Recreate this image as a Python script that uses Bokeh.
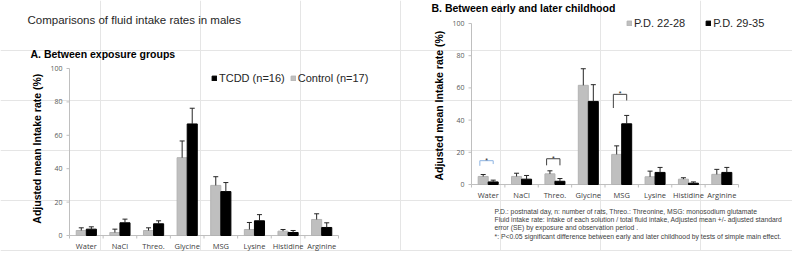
from math import pi

from bokeh.plotting import figure
from bokeh.models import Range1d, Label, Legend, LegendItem
from bokeh.core.properties import value
from bokeh.embed import file_html
from bokeh.resources import INLINE

# ---------------- data ----------------
categories = ["Water", "NaCl", "Threo.", "Glycine", "MSG", "Lysine", "Histidine", "Arginine"]
y_ticks = [0, 20, 40, 60, 80, 100]

# Panel A: between exposure groups (adjusted mean, SE)
a_control = [3.0, 1.8, 3.0, 46.6, 30.0, 3.6, 2.6, 9.6]
a_control_se = [1.6, 2.0, 1.6, 10.0, 5.2, 4.2, 1.0, 3.4]
a_tcdd = [3.8, 7.6, 7.0, 66.8, 26.3, 8.8, 1.8, 4.8]
a_tcdd_se = [1.4, 2.2, 1.8, 9.4, 5.4, 3.7, 1.2, 2.8]

# Panel B: between early and later childhood
b_early = [5.0, 5.0, 6.6, 61.6, 18.7, 4.8, 3.3, 6.3]
b_early_se = [1.2, 2.0, 1.9, 10.3, 5.3, 3.5, 0.9, 3.1]
b_later = [1.6, 3.3, 2.0, 51.6, 37.7, 7.5, 0.8, 7.5]
b_later_se = [1.1, 2.3, 1.7, 10.4, 5.2, 3.1, 0.8, 3.1]

# significance brackets in panel B
sig_categories = ["Water", "Threo.", "MSG"]
sig_top = [14.8, 16.0, 56.0]
sig_left_end = [11.6, 11.9, 47.5]
sig_right_end = [12.7, 11.9, 52.2]
sig_colors = ["#8EB4E3", "#404040", "#404040"]

y_label = "Adjusted mean Intake rate (%)"
main_title = "Comparisons of fluid intake rates in males"
title_a = "A. Between exposure groups"
title_b = "B. Between early and later childhood"
legend_a = ["TCDD (n=16)", "Control (n=17)"]
legend_b = ["P.D. 22-28", "P.D. 29-35"]
footnotes = [
    "P.D.: postnatal day, n: number of rats,  Threo.: Threonine, MSG:  monosodium glutamate",
    "Fluid intake rate: intake of each solution / total fluid intake, Adjusted mean +/-  adjusted standard",
    "error (SE) by exposure and observation period .",
    "*: P<0.05 significant difference between early and later childhood  by tests of simple main effect.",
]

# ---------------- style / layout ----------------
W, H = 792, 251
GRAY = "#BFBFBF"
BLACK = "#000000"
AXIS_COL = "#BFBFBF"
ERR_COL = "#262626"
BAR_W = 0.3
SANS = "Liberation Sans"
CAT_FONT = "Open Sans"

# plot-area geometry of both panels, in canvas pixels
GEOM = {
    "a": dict(left=69, right=338, y0=235, y100=68),
    "b": dict(left=471, right=738, y0=184, y100=23),
}

p = figure(width=W, height=H, x_range=Range1d(0, W), y_range=Range1d(H, 0),
           x_axis_location=None, y_axis_location=None,
           output_backend="svg", toolbar_location=None, min_border=0)
p.min_border_left = p.min_border_right = p.min_border_top = p.min_border_bottom = 0
p.outline_line_color = None
p.background_fill_color = "white"
p.border_fill_color = "white"

n = len(categories)
xr, yr = {}, {}
for k, g in GEOM.items():
    ppx = (g["right"] - g["left"]) / n
    ppy = (g["y0"] - g["y100"]) / 100.0
    g["ppx"], g["ppy"] = ppx, ppy
    xr["x" + k] = Range1d(start=-g["left"] / ppx, end=(W - g["left"]) / ppx)
    yr["y" + k] = Range1d(start=(g["y0"] - H) / ppy, end=g["y0"] / ppy)
p.extra_x_ranges = xr
p.extra_y_ranges = yr


def draw_axes(k, label_mid):
    g = GEOM[k]
    kw = dict(x_range_name="x" + k, y_range_name="y" + k)
    nt = len(y_ticks)
    # y axis
    p.segment(x0=[0], y0=[y_ticks[0]], x1=[0], y1=[y_ticks[-1]], line_color=AXIS_COL, line_width=1, **kw)
    p.segment(x0=[0] * nt, y0=y_ticks, x1=[-3 / g["ppx"]] * nt, y1=y_ticks,
              line_color=AXIS_COL, line_width=1, **kw)
    p.text(x=[0] * nt, y=y_ticks, text=[str(t) for t in y_ticks], x_offset=-7,
           text_align="right", text_baseline="middle", text_font=value(CAT_FONT),
           text_font_size="7px", text_color="#595959", **kw)
    # x axis with ticks between categories
    p.segment(x0=[0], y0=[0], x1=[n], y1=[0], line_color=AXIS_COL, line_width=1, **kw)
    p.segment(x0=list(range(n + 1)), y0=[0] * (n + 1), x1=list(range(n + 1)),
              y1=[-3 / g["ppy"]] * (n + 1), line_color=AXIS_COL, line_width=1, **kw)
    p.text(x=[i + 0.5 for i in range(n)], y=[0] * n, text=categories, y_offset=10,
           text_align="center", text_baseline="middle", text_font=value(CAT_FONT),
           text_font_size="7.5px", text_color="#404040", **kw)
    # y axis title
    p.text(x=[0], y=[label_mid], text=[y_label], angle=pi / 2, x_offset=-33,
           text_align="center", text_baseline="middle", text_font=value(SANS),
           text_font_style="bold", text_font_size="10.5px", text_color="#000000", **kw)


def add_bars(k, vals, ses, offset, color, line_color):
    kw = dict(x_range_name="x" + k, y_range_name="y" + k)
    xs = [i + 0.5 + offset for i in range(n)]
    upper = [v + s for v, s in zip(vals, ses)]
    r = p.vbar(x=xs, top=vals, width=BAR_W, fill_color=color, line_color=line_color, **kw)
    p.segment(x0=xs, y0=vals, x1=xs, y1=upper, line_color=ERR_COL, line_width=1, **kw)
    p.scatter(x=xs, y=upper, marker="dash", size=5, line_color=ERR_COL, line_width=1, **kw)
    return r


def add_label(X, Y, text, size, bold=False, color="#000000", font=SANS, baseline="middle"):
    p.add_layout(Label(x=X, y=Y, text=text, text_font=font, text_font_size=size,
                       text_font_style="bold" if bold else "normal", text_color=color,
                       text_align="left", text_baseline=baseline))


def add_legend(items, x, y, spacing):
    p.add_layout(Legend(items=[LegendItem(label=t, renderers=[r]) for t, r in items],
                        location=(x, y), orientation="horizontal",
                        glyph_width=6, glyph_height=6, label_standoff=2, spacing=spacing,
                        padding=0, margin=0, border_line_color=None, background_fill_alpha=0,
                        label_text_font=SANS, label_text_font_size="11px",
                        label_text_color="#262626", label_height=10))


# ---------------- panel A ----------------
draw_axes("a", 52)
rA_ctrl = add_bars("a", a_control, a_control_se, -BAR_W / 2, GRAY, "#B3B3B3")
rA_tcdd = add_bars("a", a_tcdd, a_tcdd_se, BAR_W / 2, BLACK, BLACK)
add_label(27, 19, main_title, "11.5px", color="#262626")
add_label(30, 53, title_a, "10.5px", bold=True)
add_legend([(legend_a[0], rA_tcdd), (legend_a[1], rA_ctrl)], 211, H - 84, 5)

# ---------------- panel B ----------------
draw_axes("b", 49)
rB_early = add_bars("b", b_early, b_early_se, -BAR_W / 2, GRAY, "#B3B3B3")
rB_later = add_bars("b", b_later, b_later_se, BAR_W / 2, BLACK, BLACK)

sig_idx = [categories.index(c) for c in sig_categories]
p.multi_line(xs=[[i + 0.25, i + 0.25, i + 0.65, i + 0.65] for i in sig_idx],
             ys=[[l, t, t, r] for l, t, r in zip(sig_left_end, sig_top, sig_right_end)],
             line_color=sig_colors, line_width=1, x_range_name="xb", y_range_name="yb")
p.text(x=[i + 0.45 for i in sig_idx], y=[t + 0.4 for t in sig_top], text=["*"] * len(sig_idx),
       text_font=value(SANS), text_font_size="7px", text_align="center",
       text_baseline="alphabetic", text_color="#262626", x_range_name="xb", y_range_name="yb")

add_label(431, 7, title_b, "10.5px", bold=True)
add_legend([(legend_b[0], rB_early), (legend_b[1], rB_later)], 626, H - 29, 20)

for line, Y in zip(footnotes, [210.7, 219.0, 227.3, 235.7]):
    add_label(494, Y, line, "6.8px", color="#404040")

open("out.html", "w").write(file_html(p, INLINE))
